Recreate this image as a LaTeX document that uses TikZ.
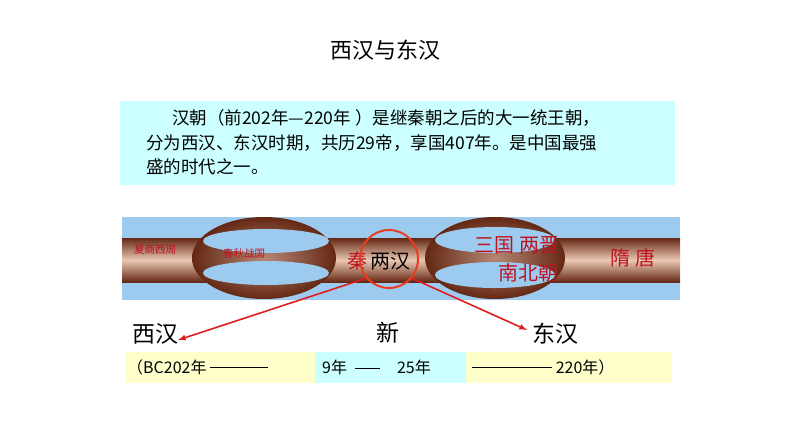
\documentclass[tikz,border=0pt]{standalone}
\usepackage{fontspec}
\setmainfont{Noto Sans CJK SC}
\newcommand{\dashbar}[1]{\rule[0.3em]{#1}{0.8pt}}
\begin{document}
\begin{tikzpicture}[x=1pt,y=-1pt,
 lbl/.style={inner sep=0pt,font=\fontsize{#1}{#1}\selectfont},
 rd/.style={text={rgb,255:red,190;green,20;blue,30}},
 arr/.style={draw={rgb,255:red,225;green,30;blue,30},line width=1.6pt,-latex}]
\definecolor{sky}{RGB}{157,203,240}
\definecolor{brn}{RGB}{100,40,20}
\definecolor{tan}{RGB}{235,200,180}
\useasboundingbox (0,0) rectangle (794,447);
\fill[white] (0,0) rectangle (794,447);
\node[lbl=22] (title) at (385,50) {西汉与东汉};
\fill[fill={rgb,255:red,204;green,255;blue,255}] (120,101) rectangle (675,185);
\node[lbl=17.5,anchor=west] (l1) at (172,118) {汉朝（前202年—220年 ）是继秦朝之后的大一统王朝，};
\node[lbl=17.5,anchor=west] (l2) at (146,143) {分为西汉、东汉时期，共历29帝，享国407年。是中国最强};
\node[lbl=17.5,anchor=west] (l3) at (146,167) {盛的时代之一。};
% band
\fill[sky] (122,217) rectangle (680,300);
\shade[top color=brn,bottom color=brn,middle color=tan] (122,238) rectangle (680,282);
\shade[inner color=tan!60!brn,outer color=brn] (264,258) ellipse (72 and 41);
\shade[inner color=tan!60!brn,outer color=brn] (495,258) ellipse (70 and 41);
\fill[sky] (266,241) ellipse (63 and 12);
\fill[sky] (266,273) ellipse (63 and 12);
\fill[sky] (495,240) ellipse (60 and 13);
\fill[sky] (495,275) ellipse (60 and 13);
\node[lbl=10.5,rd] (a) at (155,250) {夏商西周};
\node[lbl=10.5,rd] (b) at (244,254) {春秋战国};
\node[lbl=20,rd] (c) at (357,261) {秦};
\node[lbl=20] (d) at (390,261) {两汉};
\node[lbl=20,rd] (e) at (517,245) {三国 两晋};
\node[lbl=20,rd] (f) at (528,273) {南北朝};
\node[lbl=20,rd] (g) at (633,258) {隋 唐};
\node[draw={rgb,255:red,235;green,60;blue,30},line width=2pt,circle,minimum size=58pt] (circ) at (389,259) {};
% bottom
\fill[fill={rgb,255:red,255;green,255;blue,204}] (125,352) rectangle (315,383);
\fill[fill={rgb,255:red,204;green,255;blue,255}] (315,352) rectangle (466,383);
\fill[fill={rgb,255:red,255;green,255;blue,204}] (466,352) rectangle (672,383);
\node[lbl=23] (xh) at (155,334) {西汉};
\node[lbl=23] (xin) at (388,333) {新};
\node[lbl=23] (dh) at (555,334) {东汉};
\coordinate (p1) at (178,340);
\coordinate (p2) at (527,330);
\draw[arr] (circ.220) -- (p1);
\draw[arr] (circ.-40) -- (p2);
\node[lbl=16,anchor=west] (t1) at (127,367) {（BC202年 \dashbar{58pt}};
\node[lbl=16,anchor=west] (t2) at (322,367) {9年 \;\dashbar{25pt}\;\;\; 25年};
\node[lbl=16,anchor=west] (t3) at (472,367) {\dashbar{80pt} 220年）};
\end{tikzpicture}
\end{document}
